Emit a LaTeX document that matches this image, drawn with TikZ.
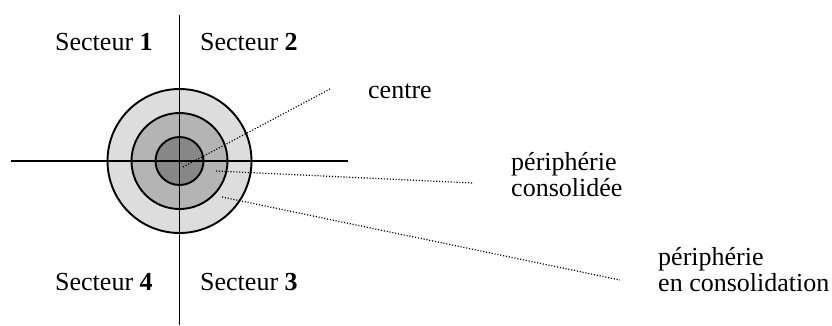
\documentclass[tikz,border=0pt]{standalone}
\usepackage{fontspec}
\setmainfont{Liberation Serif}
\definecolor{ringout}{HTML}{DDDDDD}
\definecolor{ringmid}{HTML}{B4B4B4}
\definecolor{ringin}{HTML}{878787}
\begin{document}
\begin{tikzpicture}[x=1pt,y=-1pt,
  lbl/.style={anchor=base west,inner sep=0pt,font=\fontsize{26}{25.5}\selectfont,align=left},
  axis/.style={line width=1.9pt,black},
  ring/.style={circle,draw=black,line width=1.9pt,inner sep=0pt},
  leader/.style={line width=1.2pt,dash pattern=on 1.1pt off 1.8pt}]
\useasboundingbox (0,0) rectangle (832,325);
% rings
\node[ring,fill=ringout,minimum size=144pt] (outer) at (179.5,161) {};
\node[ring,fill=ringmid,minimum size=96pt] (middle) at (179.5,161) {};
\node[ring,fill=ringin,minimum size=48pt] (inner) at (179.5,161) {};
% axes
\coordinate (vt) at (179.5,15);
\coordinate (vb) at (179.5,325);
\coordinate (hl) at (11,161);
\coordinate (hr) at (348,161);
\draw[axis] (vt) -- (vb);
\draw[axis] (hl) -- (hr);
% sector labels
\node[lbl] (s1) at (55,50) {Secteur \textbf{1}};
\node[lbl] (s2) at (200,50) {Secteur \textbf{2}};
\node[lbl] (s4) at (55,290) {Secteur \textbf{4}};
\node[lbl] (s3) at (200,290) {Secteur \textbf{3}};
% annotation labels
\node[lbl] (centre) at (368,98) {centre};
\node[lbl] (pc) at (511,196) {périphérie\\consolidée};
\node[lbl] (pec) at (658,291) {périphérie\\en consolidation};
% leaders
\coordinate (c1) at (183,167);
\coordinate (c2) at (330,89);
\coordinate (p1) at (216,171);
\coordinate (p2) at (473,183);
\coordinate (q1) at (222,197);
\coordinate (q2) at (620,280);
\draw[leader] (c1) -- (c2);
\draw[leader] (p1) -- (p2);
\draw[leader] (q1) -- (q2);
\end{tikzpicture}
\end{document}
